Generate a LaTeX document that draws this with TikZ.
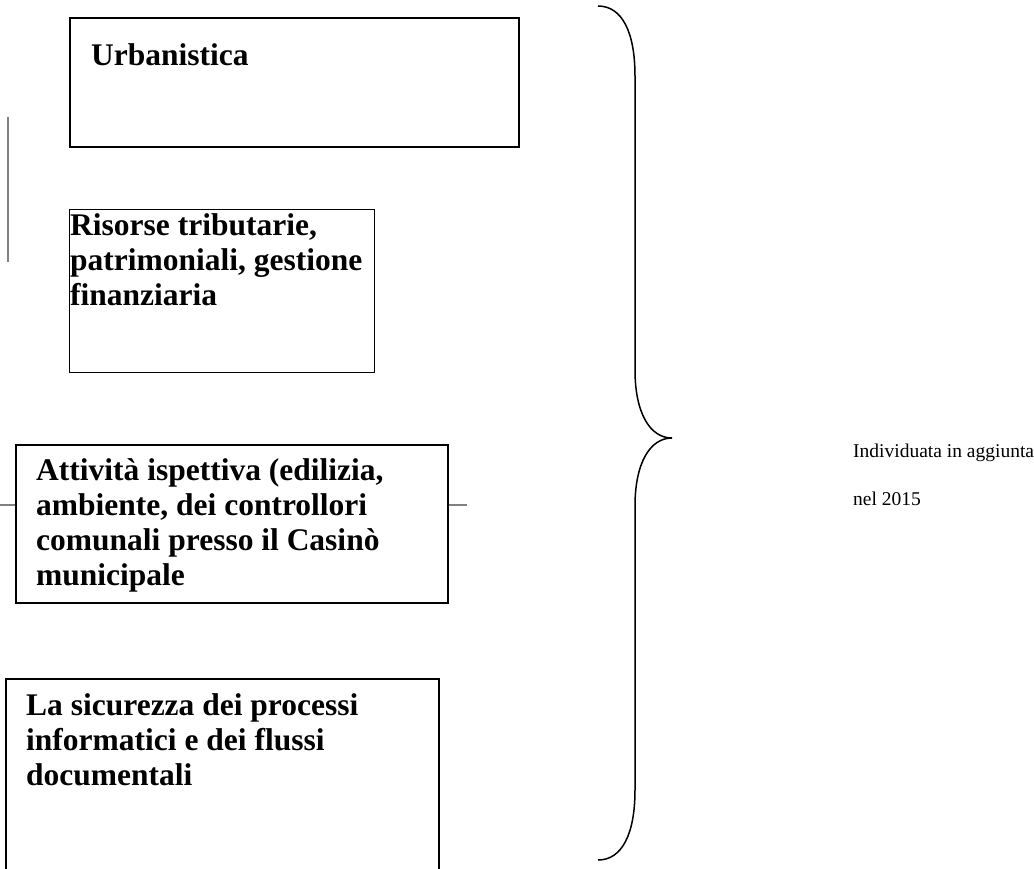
\documentclass[tikz,border=0pt]{standalone}
\usepackage{fontspec}
\setmainfont{Liberation Serif}
\usetikzlibrary{positioning,calc}

\begin{document}
\begin{tikzpicture}[
      x=1pt,y=-1pt,
      box/.style={draw,line width=1.8pt,anchor=north west,inner sep=0pt},
      boxtext/.style={anchor=north west,align=left,inner sep=0pt,font=\fontsize{31.5}{35}\selectfont\bfseries},
      sidetext/.style={anchor=base west,inner sep=0pt,font=\fontsize{19.5}{24}\selectfont},
      stray/.style={draw=black!50,line width=1.2pt}
    ]
      \useasboundingbox (0,0) rectangle (1034,868);
      % stray rule lines
      \coordinate (vtop) at (8,117);
      \coordinate (vbot) at (8,262);
      \draw[stray] (vtop)--(vbot);
      \coordinate (hleft) at (0,505);
      \coordinate (hright) at (467,505);
      \draw[stray] (hleft)--(hright);
      % boxes
      \node[box,minimum width=449pt,minimum height=129pt] (urb) at (69,17) {};
      \node[box,line width=1.3pt,minimum width=305pt,minimum height=163pt] (ris) at (69,209) {};
      \node[box,fill=white,minimum width=432pt,minimum height=158pt] (att) at (15,444) {};
      \node[box,minimum width=433pt,minimum height=200pt] (sic) at (5,678) {};
      \node[boxtext] (urbtxt) at ([xshift=22pt,yshift=-26pt]urb.north west) {Urbanistica};
      \node[boxtext] (ristxt) at ([xshift=1pt,yshift=-4pt]ris.north west) {Risorse tributarie,\\patrimoniali, gestione\\finanziaria};
      \node[boxtext] (atttxt) at ([xshift=21pt,yshift=-14pt]att.north west) {Attività ispettiva (edilizia,\\ambiente, dei controllori\\comunali presso il Casinò\\municipale};
      \node[boxtext] (sictxt) at ([xshift=21pt,yshift=-15pt]sic.north west) {La sicurezza dei processi\\informatici e dei flussi\\documentali};
      % brace
      \coordinate (btop) at (598,6);
      \coordinate (bmid) at (672,438);
      \coordinate (bbot) at (598,860);
      \draw[line width=1.5pt] (btop) .. controls (622,6) and (635,32) .. (635,76)
        -- (635,370) .. controls (635,413) and (650,438) .. (bmid)
        .. controls (650,438) and (635,463) .. (635,506)
        -- (635,790) .. controls (635,834) and (622,860) .. (bbot);
      \node[sidetext] (agg) at (853,457) {Individuata in aggiunta};
      \node[sidetext] (anno) at (853,505) {nel 2015};
    \end{tikzpicture}
\end{document}
